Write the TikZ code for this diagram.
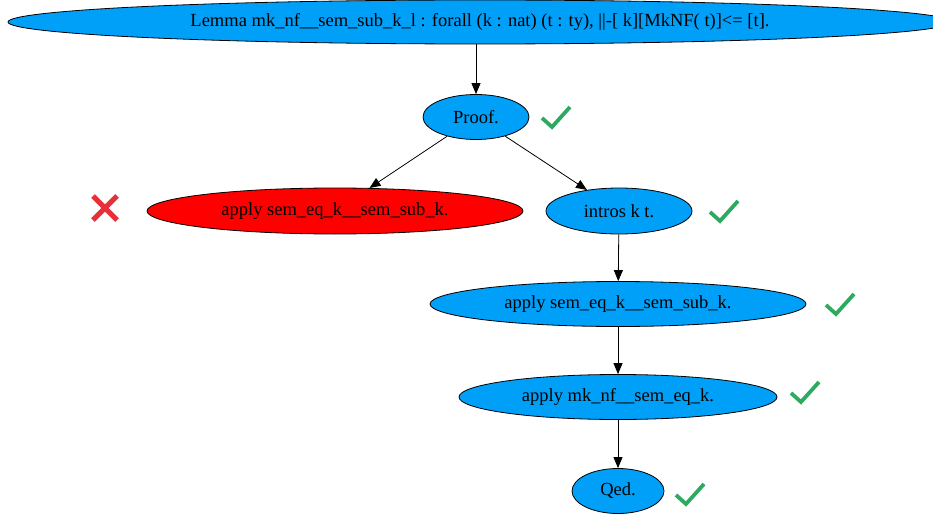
\documentclass[tikz,border=0pt]{standalone}
\usepackage{fontspec}
\setmainfont{Liberation Serif}
\usetikzlibrary{shapes.geometric,arrows.meta}
\definecolor{nodeblue}{HTML}{00A0F8}
\definecolor{okgreen}{HTML}{2EAA60}
\definecolor{badred}{HTML}{E8303A}
\tikzset{
  goal/.style={ellipse,draw=black,line width=0.8pt,fill=nodeblue,inner sep=0pt,font=\fontsize{18.5}{20}\selectfont},
  failgoal/.style={goal,fill=red},
  edge/.style={draw=black,line width=0.8pt,-{Triangle[length=11pt,width=9pt]}},
  tick/.style={draw=okgreen,line width=3.8pt,line cap=butt,line join=miter},
  cross/.style={draw=badred,line width=5pt},
}
\begin{document}
\begin{tikzpicture}[x=1pt,y=-1pt]
\clip (0,0) rectangle (933,516);
\node[goal,minimum width=944pt,minimum height=44pt] (lemma) at (480,22) {Lemma mk\_nf\_\_sem\_sub\_k\_l : forall (k : nat) (t : ty), ||-[ k][MkNF( t)]<= [t].};
\node[goal,minimum width=106pt,minimum height=45pt] (proof) at (476,117) {Proof.};
\node[failgoal,minimum width=376pt,minimum height=46pt] (fail) at (335,211) {apply sem\_eq\_k\_\_sem\_sub\_k.};
\node[goal,minimum width=146pt,minimum height=46pt] (intros) at (619,211) {intros k t.};
\node[goal,minimum width=376pt,minimum height=45pt] (apply1) at (618,304) {apply sem\_eq\_k\_\_sem\_sub\_k.};
\node[goal,minimum width=318pt,minimum height=45pt] (apply2) at (618,397) {apply mk\_nf\_\_sem\_eq\_k.};
\node[goal,minimum width=92pt,minimum height=45pt] (qed) at (618,491) {Qed.};
\path[edge] (476,44) -- (proof);
\path[edge] (proof) -- (fail);
\path[edge] (proof) -- (intros);
\path[edge] (intros) -- (apply1);
\path[edge] (apply1) -- (apply2);
\path[edge] (apply2) -- (qed);
% check marks
\foreach \cx/\cy/\nm in {556/117/c1, 724/211/c2, 840/304/c3, 805/392/c4, 690/494/c5}{
  \coordinate (\nm) at (\cx,\cy);
  \draw[tick] ([shift={(-14,1)}]\nm) -- ([shift={(-4,10)}]\nm) -- ([shift={(14,-10)}]\nm);
}
% cross
\coordinate (x1) at (105,208);
\draw[cross] ([shift={(-12,-12)}]x1) -- ([shift={(12,12)}]x1);
\draw[cross] ([shift={(12,-12)}]x1) -- ([shift={(-12,12)}]x1);
\end{tikzpicture}
\end{document}
